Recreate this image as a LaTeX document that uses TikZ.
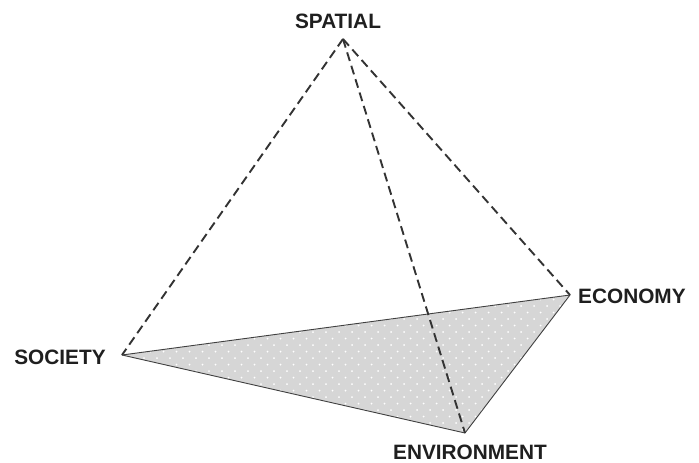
\documentclass[tikz,border=0pt]{standalone}
\usepackage{fontspec}
\setmainfont{Liberation Sans}
\begin{document}
\begin{tikzpicture}[x=1pt,y=-1pt,
  lbl/.style={font=\fontsize{20.8}{24}\selectfont\bfseries, text=black!88, inner sep=0pt},
  dashedge/.style={draw=black!80, line width=1.9pt, dash pattern=on 9pt off 5pt},
  faceedge/.style={draw=black!75, line width=0.9pt, line join=round}]
\useasboundingbox (0,0) rectangle (699,463);
\coordinate (Sp) at (343,39);
\coordinate (So) at (122,355);
\coordinate (Ec) at (570,295);
\coordinate (En) at (465,433);
% shaded face
\fill[gray!32] (So) -- (Ec) -- (En) -- cycle;
\begin{scope}
  \clip (So) -- (Ec) -- (En) -- cycle;
  \foreach \r in {0,...,22} {
    \foreach \c in {0,...,36} {
      \fill[white] ({118+\c*13+mod(\r,2)*6.5},{293+\r*6.5}) circle (1.0);
    }
  }
\end{scope}
\draw[faceedge] (So) -- (Ec) -- (En) -- cycle;
% dashed edges
\draw[dashedge] (Sp) -- (So);
\draw[dashedge] (Sp) -- (En);
\draw[dashedge] (Sp) -- (Ec);
% labels
\node[lbl] (spatial) at (338,21) {SPATIAL};
\node[lbl] (society) at (60,357) {SOCIETY};
\node[lbl, anchor=west] (economy) at (578,296) {ECONOMY};
\node[lbl] (environment) at (470,452) {ENVIRONMENT};
\end{tikzpicture}
\end{document}
